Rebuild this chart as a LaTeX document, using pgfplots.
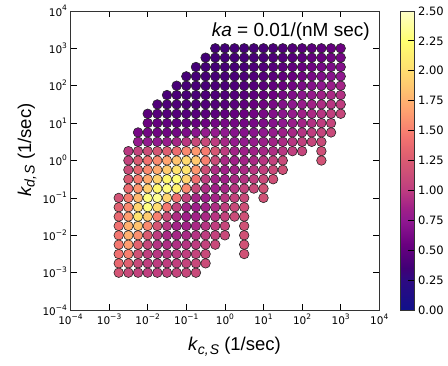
\documentclass[border=0pt]{standalone}
\usepackage{fontspec}
\setmainfont{Liberation Sans}
\newfontfamily\dejavu{DejaVu Sans}
\usepackage{pgfplots}
\pgfplotsset{compat=1.18}

% power-of-ten tick label in DejaVu Sans
\newcommand{\ptick}[1]{{\dejavu\fontsize{10.5}{12}\selectfont 10\raisebox{0.9ex}{\fontsize{7.5}{9}\selectfont #1}}}
\newcommand{\cbtick}[1]{{\dejavu\fontsize{11.5}{13}\selectfont #1}}
% rate-constant symbol with its subscript
\newcommand{\rate}[1]{{\itshape k\kern0.5pt\raisebox{-0.35ex}{\fontsize{14}{16}\selectfont #1}}}

\pgfplotsset{
  colormap={ratecmap}{
    rgb255(0pt)=(16,16,138); rgb255(25pt)=(45,10,130); rgb255(35pt)=(64,0,118);
    rgb255(55pt)=(106,0,128); rgb255(75pt)=(144,24,144); rgb255(85pt)=(160,32,136);
    rgb255(100pt)=(190,60,128); rgb255(110pt)=(200,74,122); rgb255(130pt)=(224,96,112);
    rgb255(142pt)=(240,112,112); rgb255(150pt)=(248,128,112); rgb255(166pt)=(255,160,112);
    rgb255(183pt)=(255,192,112); rgb255(192pt)=(255,208,112); rgb255(202pt)=(255,224,112);
    rgb255(225pt)=(255,255,112); rgb255(250pt)=(255,255,200)
  }
}

\begin{document}
\begin{tikzpicture}
\path[use as bounding box] (-70.5pt,-54.9pt) rectangle (377.5pt,310.1pt);
\begin{axis}[
  at={(0,0)}, anchor=south west,
  scale only axis, width=308.8pt, height=299.2pt,
  xmode=log, ymode=log, log basis x=10, log basis y=10,
  xmin=1e-4, xmax=1e4, ymin=1e-4, ymax=1e4,
  xtick={1e-4,1e-3,1e-2,1e-1,1,1e1,1e2,1e3,1e4},
  ytick={1e-4,1e-3,1e-2,1e-1,1,1e1,1e2,1e3,1e4},
  xticklabels={{\ptick{−4}},{\ptick{−3}},{\ptick{−2}},{\ptick{−1}},{\ptick{0}},{\ptick{1}},{\ptick{2}},{\ptick{3}},{\ptick{4}}},
  yticklabels={{\ptick{−4}},{\ptick{−3}},{\ptick{−2}},{\ptick{−1}},{\ptick{0}},{\ptick{1}},{\ptick{2}},{\ptick{3}},{\ptick{4}}},
  tick align=inside, xtick pos=both, ytick pos=both,
  xticklabel pos=lower, yticklabel pos=left,
  major tick length=6.5pt, minor tick length=3.5pt,
  every tick/.style={black, line width=0.7pt},
  axis line style={black!80, line width=0.8pt},
  colormap name=ratecmap,
  point meta min=0, point meta max=2.5,
  colorbar,
  colorbar style={
    at={(parent axis.north east)}, anchor=north west, xshift=12.4pt,
    scale only axis, width=14.3pt, height=299.2pt,
    ytick={0,0.25,0.5,0.75,1,1.25,1.5,1.75,2,2.25,2.5},
    yticklabels={{\cbtick{0.00}},{\cbtick{0.25}},{\cbtick{0.50}},{\cbtick{0.75}},{\cbtick{1.00}},{\cbtick{1.25}},{\cbtick{1.50}},{\cbtick{1.75}},{\cbtick{2.00}},{\cbtick{2.25}},{\cbtick{2.50}}},
    ytick pos=right, yticklabel pos=right, tick align=inside,
    major tick length=7pt,
    every tick/.style={black, line width=0.7pt},
    axis line style={black!80, line width=0.8pt},
  },
  xlabel={\fontsize{18.5}{21}\selectfont\rate{c,\kern1pt S} (1/sec)},
  ylabel={\fontsize{18.5}{21}\selectfont\rate{d,\kern1pt S} (1/sec)},
  xlabel style={at={(axis description cs:0.531,-0.1223)}, anchor=center},
  ylabel style={at={(axis description cs:-0.1409,0.535)}, anchor=center, rotate=0},
]
\addplot[scatter, only marks, mark=*, mark size=4.8pt, point meta=explicit,
  scatter/use mapped color={draw=black!85, fill=mapped color, line width=0.6pt}]
coordinates {
(0.56234,1000)[0.36] (1,1000)[0.36] (1.7783,1000)[0.37] (3.1623,1000)[0.37] (5.6234,1000)[0.38] (10,1000)[0.39] (17.783,1000)[0.40] (31.623,1000)[0.42] (56.234,1000)[0.44] (100,1000)[0.46] (177.83,1000)[0.48] (316.23,1000)[0.50] (562.34,1000)[0.53] (1000,1000)[0.56]
(0.31623,562.34)[0.36] (0.56234,562.34)[0.36] (1,562.34)[0.37] (1.7783,562.34)[0.37] (3.1623,562.34)[0.38] (5.6234,562.34)[0.39] (10,562.34)[0.40] (17.783,562.34)[0.42] (31.623,562.34)[0.44] (56.234,562.34)[0.46] (100,562.34)[0.49] (177.83,562.34)[0.52] (316.23,562.34)[0.55] (562.34,562.34)[0.58] (1000,562.34)[0.61]
(0.17783,316.23)[0.37] (0.31623,316.23)[0.37] (0.56234,316.23)[0.37] (1,316.23)[0.38] (1.7783,316.23)[0.38] (3.1623,316.23)[0.39] (5.6234,316.23)[0.41] (10,316.23)[0.43] (17.783,316.23)[0.45] (31.623,316.23)[0.48] (56.234,316.23)[0.51] (100,316.23)[0.54] (177.83,316.23)[0.58] (316.23,316.23)[0.62] (562.34,316.23)[0.65] (1000,316.23)[0.68]
(0.1,177.83)[0.38] (0.17783,177.83)[0.38] (0.31623,177.83)[0.38] (0.56234,177.83)[0.38] (1,177.83)[0.39] (1.7783,177.83)[0.40] (3.1623,177.83)[0.41] (5.6234,177.83)[0.43] (10,177.83)[0.45] (17.783,177.83)[0.48] (31.623,177.83)[0.51] (56.234,177.83)[0.55] (100,177.83)[0.59] (177.83,177.83)[0.63] (316.23,177.83)[0.67] (562.34,177.83)[0.71] (1000,177.83)[0.75]
(0.056234,100)[0.39] (0.1,100)[0.39] (0.17783,100)[0.39] (0.31623,100)[0.39] (0.56234,100)[0.40] (1,100)[0.40] (1.7783,100)[0.41] (3.1623,100)[0.43] (5.6234,100)[0.45] (10,100)[0.48] (17.783,100)[0.51] (31.623,100)[0.55] (56.234,100)[0.59] (100,100)[0.64] (177.83,100)[0.69] (316.23,100)[0.75] (562.34,100)[0.81] (1000,100)[0.87]
(0.031623,56.234)[0.40] (0.056234,56.234)[0.40] (0.1,56.234)[0.40] (0.17783,56.234)[0.40] (0.31623,56.234)[0.41] (0.56234,56.234)[0.41] (1,56.234)[0.42] (1.7783,56.234)[0.44] (3.1623,56.234)[0.46] (5.6234,56.234)[0.49] (10,56.234)[0.53] (17.783,56.234)[0.57] (31.623,56.234)[0.62] (56.234,56.234)[0.67] (100,56.234)[0.73] (177.83,56.234)[0.79] (316.23,56.234)[0.85] (562.34,56.234)[0.90] (1000,56.234)[0.94]
(0.017783,31.623)[0.43] (0.031623,31.623)[0.42] (0.056234,31.623)[0.42] (0.1,31.623)[0.42] (0.17783,31.623)[0.42] (0.31623,31.623)[0.43] (0.56234,31.623)[0.44] (1,31.623)[0.45] (1.7783,31.623)[0.47] (3.1623,31.623)[0.50] (5.6234,31.623)[0.54] (10,31.623)[0.58] (17.783,31.623)[0.63] (31.623,31.623)[0.68] (56.234,31.623)[0.74] (100,31.623)[0.80] (177.83,31.623)[0.86] (316.23,31.623)[0.92] (562.34,31.623)[0.97] (1000,31.623)[1.01]
(0.01,17.783)[0.48] (0.017783,17.783)[0.46] (0.031623,17.783)[0.45] (0.056234,17.783)[0.45] (0.1,17.783)[0.45] (0.17783,17.783)[0.46] (0.31623,17.783)[0.47] (0.56234,17.783)[0.48] (1,17.783)[0.50] (1.7783,17.783)[0.52] (3.1623,17.783)[0.55] (5.6234,17.783)[0.59] (10,17.783)[0.63] (17.783,17.783)[0.68] (31.623,17.783)[0.73] (56.234,17.783)[0.79] (100,17.783)[0.85] (177.83,17.783)[0.91] (316.23,17.783)[0.97] (562.34,17.783)[1.03] (1000,17.783)[1.08]
(0.01,10)[0.56] (0.017783,10)[0.53] (0.031623,10)[0.51] (0.056234,10)[0.50] (0.1,10)[0.51] (0.17783,10)[0.53] (0.31623,10)[0.56] (0.56234,10)[0.60] (1,10)[0.62] (1.7783,10)[0.60] (3.1623,10)[0.60] (5.6234,10)[0.62] (10,10)[0.65] (17.783,10)[0.70] (31.623,10)[0.75] (56.234,10)[0.81] (100,10)[0.87] (177.83,10)[0.94] (316.23,10)[1.01] (562.34,10)[1.07]
(0.0056234,5.6234)[0.62] (0.01,5.6234)[0.60] (0.017783,5.6234)[0.58] (0.031623,5.6234)[0.58] (0.056234,5.6234)[0.60] (0.1,5.6234)[0.65] (0.17783,5.6234)[0.72] (0.31623,5.6234)[0.78] (0.56234,5.6234)[0.78] (1,5.6234)[0.75] (1.7783,5.6234)[0.70] (3.1623,5.6234)[0.70] (5.6234,5.6234)[0.72] (10,5.6234)[0.75] (17.783,5.6234)[0.79] (31.623,5.6234)[0.84] (56.234,5.6234)[0.89] (100,5.6234)[0.95] (177.83,5.6234)[1.01] (316.23,5.6234)[1.06] (562.34,5.6234)[1.10]
(0.0056234,3.1623)[0.78] (0.01,3.1623)[0.76] (0.017783,3.1623)[0.76] (0.031623,3.1623)[0.80] (0.056234,3.1623)[0.88] (0.1,3.1623)[0.98] (0.17783,3.1623)[1.10] (0.31623,3.1623)[1.10] (0.56234,3.1623)[1.00] (1,3.1623)[0.88] (1.7783,3.1623)[0.78] (3.1623,3.1623)[0.77] (5.6234,3.1623)[0.79] (10,3.1623)[0.82] (17.783,3.1623)[0.86] (31.623,3.1623)[0.91] (56.234,3.1623)[0.97] (100,3.1623)[1.03] (177.83,3.1623)[1.08] (316.23,3.1623)[1.11]
(0.0031623,1.7783)[0.98] (0.0056234,1.7783)[1.05] (0.01,1.7783)[1.12] (0.017783,1.7783)[1.20] (0.031623,1.7783)[1.28] (0.056234,1.7783)[1.40] (0.1,1.7783)[1.55] (0.17783,1.7783)[1.62] (0.31623,1.7783)[1.48] (0.56234,1.7783)[1.22] (1,1.7783)[1.00] (1.7783,1.7783)[0.86] (3.1623,1.7783)[0.84] (5.6234,1.7783)[0.85] (10,1.7783)[0.88] (17.783,1.7783)[0.92] (31.623,1.7783)[0.97] (56.234,1.7783)[1.02] (100,1.7783)[1.07] (316.23,1.7783)[1.15]
(0.0031623,1)[1.05] (0.0056234,1)[1.25] (0.01,1)[1.42] (0.017783,1)[1.55] (0.031623,1)[1.68] (0.056234,1)[1.85] (0.1,1)[1.98] (0.17783,1)[1.88] (0.31623,1)[1.50] (0.56234,1)[1.12] (1,1)[0.90] (1.7783,1)[0.85] (3.1623,1)[0.86] (5.6234,1)[0.90] (10,1)[0.97] (17.783,1)[1.04] (31.623,1)[1.10] (316.23,1)[1.18]
(0.0031623,0.56234)[1.12] (0.0056234,0.56234)[1.35] (0.01,0.56234)[1.55] (0.017783,0.56234)[1.72] (0.031623,0.56234)[1.90] (0.056234,0.56234)[2.05] (0.1,0.56234)[2.05] (0.17783,0.56234)[1.62] (0.31623,0.56234)[1.15] (0.56234,0.56234)[0.92] (1,0.56234)[0.85] (1.7783,0.56234)[0.86] (3.1623,0.56234)[0.90] (5.6234,0.56234)[0.97] (10,0.56234)[1.03] (17.783,0.56234)[1.10] (31.623,0.56234)[1.15]
(0.0031623,0.31623)[1.25] (0.0056234,0.31623)[1.48] (0.01,0.31623)[1.72] (0.017783,0.31623)[1.95] (0.031623,0.31623)[2.20] (0.056234,0.31623)[2.28] (0.1,0.31623)[1.95] (0.17783,0.31623)[1.42] (0.31623,0.31623)[1.02] (0.56234,0.31623)[0.87] (1,0.31623)[0.85] (1.7783,0.31623)[0.90] (3.1623,0.31623)[0.95] (5.6234,0.31623)[1.02] (10,0.31623)[1.10] (17.783,0.31623)[1.15]
(0.0031623,0.17783)[1.38] (0.0056234,0.17783)[1.62] (0.01,0.17783)[1.92] (0.017783,0.17783)[2.20] (0.031623,0.17783)[2.30] (0.056234,0.17783)[2.15] (0.1,0.17783)[1.55] (0.17783,0.17783)[1.10] (0.31623,0.17783)[0.92] (0.56234,0.17783)[0.85] (1,0.17783)[0.88] (1.7783,0.17783)[0.97] (3.1623,0.17783)[1.05] (5.6234,0.17783)[1.10] (10,0.17783)[1.17]
(0.0017783,0.1)[1.18] (0.0031623,0.1)[1.48] (0.0056234,0.1)[1.80] (0.01,0.1)[2.30] (0.017783,0.1)[2.35] (0.031623,0.1)[1.95] (0.056234,0.1)[1.42] (0.1,0.1)[1.05] (0.17783,0.1)[0.88] (0.31623,0.1)[0.84] (0.56234,0.1)[0.87] (1,0.1)[0.97] (1.7783,0.1)[1.05] (3.1623,0.1)[1.10] (10,0.1)[1.17]
(0.0017783,0.056234)[1.30] (0.0031623,0.056234)[1.55] (0.0056234,0.056234)[1.95] (0.01,0.056234)[2.30] (0.017783,0.056234)[2.00] (0.031623,0.056234)[1.45] (0.056234,0.056234)[1.05] (0.1,0.056234)[0.88] (0.17783,0.056234)[0.84] (0.31623,0.056234)[0.86] (0.56234,0.056234)[0.92] (1,0.056234)[1.02] (1.7783,0.056234)[1.10] (3.1623,0.056234)[1.15]
(0.0017783,0.031623)[1.36] (0.0031623,0.031623)[1.65] (0.0056234,0.031623)[2.05] (0.01,0.031623)[1.90] (0.017783,0.031623)[1.50] (0.031623,0.031623)[1.12] (0.056234,0.031623)[0.92] (0.1,0.031623)[0.85] (0.17783,0.031623)[0.86] (0.31623,0.031623)[0.90] (0.56234,0.031623)[0.97] (1,0.031623)[1.05] (1.7783,0.031623)[1.12] (3.1623,0.031623)[1.16]
(0.0017783,0.017783)[1.42] (0.0031623,0.017783)[1.75] (0.0056234,0.017783)[1.85] (0.01,0.017783)[1.55] (0.017783,0.017783)[1.20] (0.031623,0.017783)[0.97] (0.056234,0.017783)[0.87] (0.1,0.017783)[0.86] (0.17783,0.017783)[0.90] (0.31623,0.017783)[0.96] (0.56234,0.017783)[1.02] (1,0.017783)[1.08] (3.1623,0.017783)[1.17]
(0.0017783,0.01)[1.45] (0.0031623,0.01)[1.75] (0.0056234,0.01)[1.58] (0.01,0.01)[1.25] (0.017783,0.01)[1.00] (0.031623,0.01)[0.90] (0.056234,0.01)[0.88] (0.1,0.01)[0.90] (0.17783,0.01)[0.95] (0.31623,0.01)[1.00] (0.56234,0.01)[1.05] (1,0.01)[1.10] (3.1623,0.01)[1.17]
(0.0017783,0.0056234)[1.46] (0.0031623,0.0056234)[1.65] (0.0056234,0.0056234)[1.32] (0.01,0.0056234)[1.08] (0.017783,0.0056234)[0.95] (0.031623,0.0056234)[0.92] (0.056234,0.0056234)[0.93] (0.1,0.0056234)[0.96] (0.17783,0.0056234)[1.00] (0.31623,0.0056234)[1.05] (0.56234,0.0056234)[1.10] (3.1623,0.0056234)[1.17]
(0.0017783,0.0031623)[1.42] (0.0031623,0.0031623)[1.50] (0.0056234,0.0031623)[1.17] (0.01,0.0031623)[1.02] (0.017783,0.0031623)[0.97] (0.031623,0.0031623)[0.97] (0.056234,0.0031623)[0.99] (0.1,0.0031623)[1.02] (0.17783,0.0031623)[1.06] (0.31623,0.0031623)[1.10] (3.1623,0.0031623)[1.17]
(0.0017783,0.0017783)[1.36] (0.0031623,0.0017783)[1.30] (0.0056234,0.0017783)[1.10] (0.01,0.0017783)[1.02] (0.017783,0.0017783)[1.00] (0.031623,0.0017783)[1.01] (0.056234,0.0017783)[1.03] (0.1,0.0017783)[1.06] (0.17783,0.0017783)[1.09] (0.31623,0.0017783)[1.12]
(0.0017783,0.001)[1.20] (0.0031623,0.001)[1.10] (0.0056234,0.001)[1.05] (0.01,0.001)[1.02] (0.017783,0.001)[1.02] (0.031623,0.001)[1.04] (0.056234,0.001)[1.06] (0.1,0.001)[1.08] (0.17783,0.001)[1.10]
};
\node[anchor=east, font=\fontsize{19}{22}\selectfont] at (rel axis cs:1,1) [xshift=-6pt, yshift=-21pt] {\textit{ka} = 0.01/(nM sec)};
\end{axis}
\end{tikzpicture}
\end{document}
